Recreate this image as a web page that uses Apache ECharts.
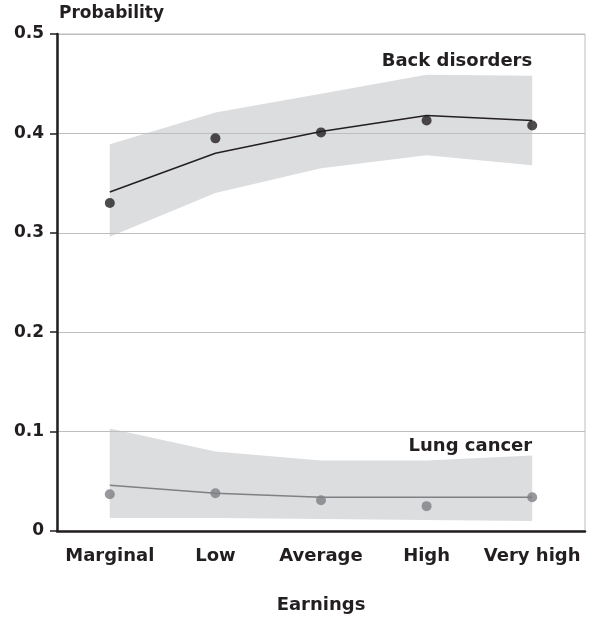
<!DOCTYPE html>
<html>
<head>
<meta charset="utf-8">
<script src="https://cdn.jsdelivr.net/npm/echarts@6/dist/echarts.min.js"></script>
<style>html,body{margin:0;padding:0;background:#fff;}#c{width:593px;height:619px;}</style>
</head>
<body>
<div id="c"></div>
<script>
var categories = ['Marginal', 'Low', 'Average', 'High', 'Very high'];

var backPredicted = [0.341, 0.380, 0.402, 0.418, 0.413];
var backObserved  = [0.330, 0.395, 0.401, 0.413, 0.408];
var backUpper     = [0.389, 0.421, 0.440, 0.459, 0.458];
var backLower     = [0.296, 0.340, 0.365, 0.378, 0.368];

var lungPredicted = [0.046, 0.038, 0.034, 0.034, 0.034];
var lungObserved  = [0.037, 0.038, 0.031, 0.025, 0.034];
var lungUpper     = [0.103, 0.080, 0.071, 0.071, 0.076];
var lungLower     = [0.013, 0.013, 0.012, 0.011, 0.010];

var yTicks = [0, 0.1, 0.2, 0.3, 0.4, 0.5];

function diff(u, l) { return u.map(function (v, i) { return +(v - l[i]).toFixed(4); }); }

var FONT = 'DejaVu Sans';
var DARK = '#231f20';
var BAND = '#dcdddf';
var GREY = '#7f8083';

var chart = echarts.init(document.getElementById('c'), null, { renderer: 'canvas' });

function bandSeries(name, lower, upper) {
  return [
    { name: name + ' lower', type: 'line', stack: name, data: lower, symbol: 'none',
      lineStyle: { opacity: 0 }, silent: true, z: -1 },
    { name: name + ' band', type: 'line', stack: name, data: diff(upper, lower), symbol: 'none',
      lineStyle: { opacity: 0 }, areaStyle: { color: BAND, opacity: 1 }, silent: true, z: -1 }
  ];
}

var option = {
  animation: false,
  backgroundColor: '#fff',
  grid: { left: 57, right: 8, top: 34, bottom: 77, show: true, borderColor: '#bcbec0', borderWidth: 1, backgroundColor: 'transparent', z: 0 },
  xAxis: {
    type: 'category',
    data: categories,
    boundaryGap: true,
    name: 'Earnings',
    nameLocation: 'middle',
    nameGap: 65,
    nameTextStyle: { fontFamily: FONT, fontWeight: 'bold', fontSize: 18, color: DARK },
    axisLine: { lineStyle: { color: DARK, width: 2.5 } },
    axisTick: { alignWithLabel: true, interval: 0, length: 6, lineStyle: { color: DARK, width: 1.5 } },
    axisLabel: { interval: 0, hideOverlap: false, fontFamily: FONT, fontWeight: 'bold', fontSize: 18, color: DARK, margin: 16 },
    splitLine: { show: false }
  },
  yAxis: {
    type: 'value',
    min: yTicks[0],
    max: yTicks[yTicks.length - 1],
    interval: 0.1,
    name: 'Probability',
    nameLocation: 'end',
    nameGap: 12,
    nameTextStyle: { fontFamily: FONT, fontWeight: 'bold', fontSize: 17, color: DARK, align: 'left', padding: [0, 0, 0, 2] },
    axisLine: { show: true, lineStyle: { color: DARK, width: 2.5 } },
    axisTick: { show: true, length: 7, lineStyle: { color: DARK, width: 1.5 } },
    axisLabel: { fontFamily: FONT, fontWeight: 'bold', fontSize: 17, color: DARK, margin: 13 },
    splitLine: { show: true, lineStyle: { color: '#bcbec0', width: 1 } }
  },
  series: [].concat(
    bandSeries('back', backLower, backUpper),
    bandSeries('lung', lungLower, lungUpper),
    [
      { name: 'Back predicted', type: 'line', data: backPredicted, symbol: 'none',
        lineStyle: { color: DARK, width: 1.5 }, z: 3,
        markPoint: {
          symbol: 'circle', symbolSize: 0, silent: true,
          data: [{ coord: [4, 0.473], value: 'Back disorders' }],
          label: { show: true, position: 'left', distance: 0, formatter: 'Back disorders',
                   fontFamily: FONT, fontWeight: 'bold', fontSize: 18, color: DARK }
        } },
      { name: 'Back observed', type: 'scatter', data: backObserved, symbol: 'circle', symbolSize: 10,
        itemStyle: { color: DARK }, z: 4 },
      { name: 'Lung predicted', type: 'line', data: lungPredicted, symbol: 'none',
        lineStyle: { color: GREY, width: 1.5 }, z: 3,
        markPoint: {
          symbol: 'circle', symbolSize: 0, silent: true,
          data: [{ coord: [4, 0.085], value: 'Lung cancer' }],
          label: { show: true, position: 'left', distance: 0, formatter: 'Lung cancer',
                   fontFamily: FONT, fontWeight: 'bold', fontSize: 18, color: DARK }
        } },
      { name: 'Lung observed', type: 'scatter', data: lungObserved, symbol: 'circle', symbolSize: 10,
        itemStyle: { color: GREY }, z: 4 }
    ]
  )
};
chart.setOption(option);
</script>
</body>
</html>
